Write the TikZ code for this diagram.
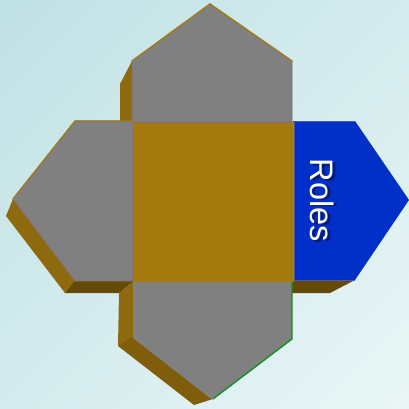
\documentclass[tikz,border=0pt]{standalone}
\usepackage{fontspec}
\setmainfont{Liberation Sans}
\definecolor{bgA}{HTML}{BFE1E5}
\definecolor{bgB}{HTML}{EAF6F6}
\definecolor{gold}{HTML}{A47A0C}
\definecolor{sideA}{HTML}{8E6A0E}
\definecolor{sideB}{HTML}{7F5D0B}
\definecolor{sideC}{HTML}{644A07}
\definecolor{edgeO}{HTML}{A07C1C}
\definecolor{edgeP}{HTML}{8C6C78}
\definecolor{royal}{HTML}{0030C8}
\definecolor{navy}{HTML}{0A1A6E}
\definecolor{leaf}{HTML}{0F8F1F}
\definecolor{panel}{HTML}{808080}
\tikzset{
  px/.style={x=1pt,y=-1pt},
  graypanel/.style={fill=panel,draw=edgeP,line width=.8pt,line join=miter},
  gildedge/.style={draw=edgeO,line width=1.4pt,line cap=round},
  greenedge/.style={draw=leaf,line width=1.3pt},
  rolestext/.style={rotate=-90,font=\fontsize{32.5}{32.5}\selectfont}
}
\begin{document}
\begin{tikzpicture}[px]
\useasboundingbox (0,0) rectangle (409,409);
\shade[shading=axis,left color=bgA,right color=bgB,shading angle=45] (-90,-90) rectangle (499,499);
% extrusion sides
\fill[sideA] (132,61) -- (120,84) -- (120,122) -- (134,122) -- (134,61) -- cycle;
\fill[sideA] (13,199) -- (6,216) -- (65,293) -- (76,281) -- (76,270) -- cycle;
\fill[sideC] (65,293) -- (119,293) -- (134,281) -- (75,281) -- cycle;
\fill[sideC] (292,280) -- (353,281) -- (330,293) -- (292,293) -- cycle;
\fill[sideA] (134,281) -- (119,293) -- (118,346) -- (132,338) -- (134,338) -- cycle;
\fill[sideB] (118,346) -- (132,337) -- (140,340) -- (213,399) -- (194,405) -- cycle;
% flaps
\filldraw[graypanel] (132,61) -- (210,4) -- (292,61) -- (292,122) -- (132,122) -- cycle;
\draw[gildedge] (132,61) -- (210,4) -- (292,61);
\filldraw[graypanel] (75,121) -- (133,121) -- (133,281) -- (75,281) -- (13,199) -- cycle;
\draw[gildedge] (13,199) -- (75,121) -- (133,121);
\fill[panel] (133,282) -- (292,282) -- (292,339) -- (213,399) -- (210,398) -- (133,338) -- cycle;
\draw[greenedge] (292,282) -- (292,339) -- (213,399);
\fill[royal] (293,121) -- (355,121) -- (409,200) -- (355,280) -- (293,280) -- cycle;
\draw[edgeP!60!royal,line width=.8pt] (355,121) -- (294,121) -- (294,280) -- (355,280);
% centre
\fill[gold] (133,122) rectangle (293,282);
\draw[edgeP,line width=.8pt] (133,122) -- (133,282);
\draw[edgeP,line width=.8pt] (133,122) -- (293,122);
\draw[panel,line width=.8pt] (293,122) -- (293,282);
% label
\node[rolestext,text=navy] (rolesshadow) at (325.5,202) {Roles};
\node[rolestext,text=white] (roles) at (322.5,200.5) {Roles};
\end{tikzpicture}
\end{document}
